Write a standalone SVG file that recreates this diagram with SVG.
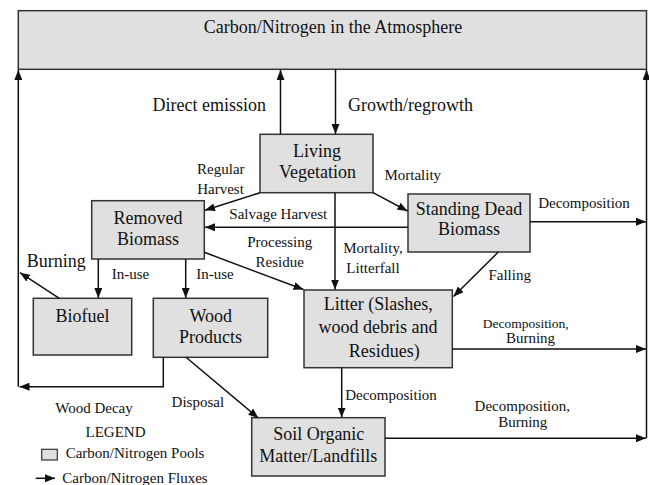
<svg xmlns="http://www.w3.org/2000/svg" width="649" height="485" viewBox="0 0 649 485">
<style>
.box{fill:#e0e0e0;stroke:#333;stroke-width:1.5}
.t{font-family:"Liberation Serif","Times New Roman",serif;font-size:18px;fill:#111;text-anchor:middle}
.s{font-family:"Liberation Serif","Times New Roman",serif;font-size:15px;fill:#111;text-anchor:middle}
.c{fill:none;stroke:#111;stroke-width:1.5}
.a{marker-end:url(#ah)}
</style>
<defs>
<marker id="ah" markerUnits="userSpaceOnUse" markerWidth="10" markerHeight="8" refX="10" refY="4" orient="auto">
<path d="M0,0 L10,4 L0,8 z" fill="#111"/>
</marker>
</defs>
<rect width="649" height="485" fill="#fff"/>

<g id="atmosphere">
<rect class="box" x="18.3" y="10.7" width="628.2" height="58.6"/>
<text class="t" x="333" y="33">Carbon/Nitrogen in the Atmosphere</text>
</g>

<g id="living-vegetation">
<rect class="box" x="260" y="134.3" width="113" height="58.4"/>
<text class="t" x="317" y="156.7">Living</text>
<text class="t" x="317.5" y="178.3">Vegetation</text>
</g>

<g id="removed-biomass">
<rect class="box" x="91.7" y="200.7" width="112.6" height="58.3"/>
<text class="t" x="148" y="224.3">Removed</text>
<text class="t" x="148" y="245">Biomass</text>
</g>

<g id="standing-dead-biomass">
<rect class="box" x="408" y="194" width="122" height="58"/>
<text class="t" x="469" y="215">Standing Dead</text>
<text class="t" x="469" y="235">Biomass</text>
</g>

<g id="biofuel">
<rect class="box" x="33.3" y="298.3" width="98.4" height="56.7"/>
<text class="t" x="82.5" y="321.7">Biofuel</text>
</g>

<g id="wood-products">
<rect class="box" x="153.3" y="298.3" width="114.4" height="59"/>
<text class="t" x="210.7" y="321.7">Wood</text>
<text class="t" x="210.5" y="342.7">Products</text>
</g>

<g id="litter">
<rect class="box" x="304" y="290" width="148.3" height="77.7"/>
<text class="t" x="378.3" y="310">Litter (Slashes,</text>
<text class="t" x="378" y="333.3">wood debris and</text>
<text class="t" x="384.3" y="356.7">Residues)</text>
</g>

<g id="soil-organic-matter">
<rect class="box" x="251.7" y="417.7" width="133.3" height="58.3"/>
<text class="t" x="318.8" y="440">Soil Organic</text>
<text class="t" x="318.3" y="461.7">Matter/Landfills</text>
</g>

<g id="connectors">
<path class="c a" d="M18.3,386.7 L18.3,70"/>
<path class="c a" d="M163.3,357.3 L163.3,386.7 L19.5,386.7"/>
<path class="c a" d="M280.5,134.3 L280.5,70"/>
<path class="c a" d="M335.5,69.3 L335.5,134"/>
<path class="c a" d="M260,192.7 L205,210.3"/>
<path class="c a" d="M373,192.7 L407.5,211"/>
<path class="c a" d="M408,227.3 L205,227.3"/>
<path class="c a" d="M335,192.7 L335,289.5"/>
<path class="c a" d="M204.3,252.3 L303.5,289.5"/>
<path class="c a" d="M530,221.7 L646,221.7"/>
<path class="c a" d="M498.3,252 L453.5,296.5"/>
<path class="c a" d="M98.3,259 L98.3,298"/>
<path class="c a" d="M185.7,259 L185.7,298"/>
<path class="c a" d="M59.3,298.3 L20,272.7"/>
<path class="c a" d="M452.3,349 L646,349"/>
<path class="c a" d="M341.7,367.7 L341.7,417.5"/>
<path class="c a" d="M186,357.3 L258.3,418"/>
<path class="c a" d="M385,438.3 L646,438.3"/>
<path class="c a" d="M646.5,438.3 L646.5,70"/>
</g>

<g id="labels">
<text class="t" x="209.2" y="111">Direct emission</text>
<text class="t" x="410.5" y="111">Growth/regrowth</text>
<text class="s" x="220.8" y="174">Regular</text>
<text class="s" x="220.5" y="194">Harvest</text>
<text class="s" x="412.8" y="180">Mortality</text>
<text class="s" x="278.3" y="219.3">Salvage Harvest</text>
<text class="s" x="584" y="208.3">Decomposition</text>
<text class="s" x="279.7" y="246.7">Processing</text>
<text class="s" x="279.7" y="266.7">Residue</text>
<text class="s" x="373" y="253.3">Mortality,</text>
<text class="s" x="373" y="273.3">Litterfall</text>
<text class="s" x="509.7" y="280">Falling</text>
<text class="t" x="56.3" y="266.7">Burning</text>
<text class="s" x="130.5" y="279.3">In-use</text>
<text class="s" x="215" y="279.3">In-use</text>
<text class="s" x="525.8" y="328.3" style="font-size:13.5px">Decomposition,</text>
<text class="s" x="530.5" y="343.3">Burning</text>
<text class="s" x="391" y="400">Decomposition</text>
<text class="s" x="522.3" y="410.7">Decomposition,</text>
<text class="s" x="522.8" y="427.3">Burning</text>
<text class="s" x="197.8" y="406.7">Disposal</text>
<text class="s" x="94" y="413.3">Wood Decay</text>
</g>

<g id="legend">
<text class="s" x="115.5" y="436.7">LEGEND</text>
<rect class="box" x="41.7" y="449.3" width="15.6" height="10.7" style="stroke-width:1.2"/>
<text class="s" x="65.7" y="458.3" style="text-anchor:start">Carbon/Nitrogen Pools</text>
<path class="c a" d="M35.7,478.3 L55,478.3"/>
<text class="s" x="62.3" y="482.7" style="text-anchor:start">Carbon/Nitrogen Fluxes</text>
</g>
</svg>
